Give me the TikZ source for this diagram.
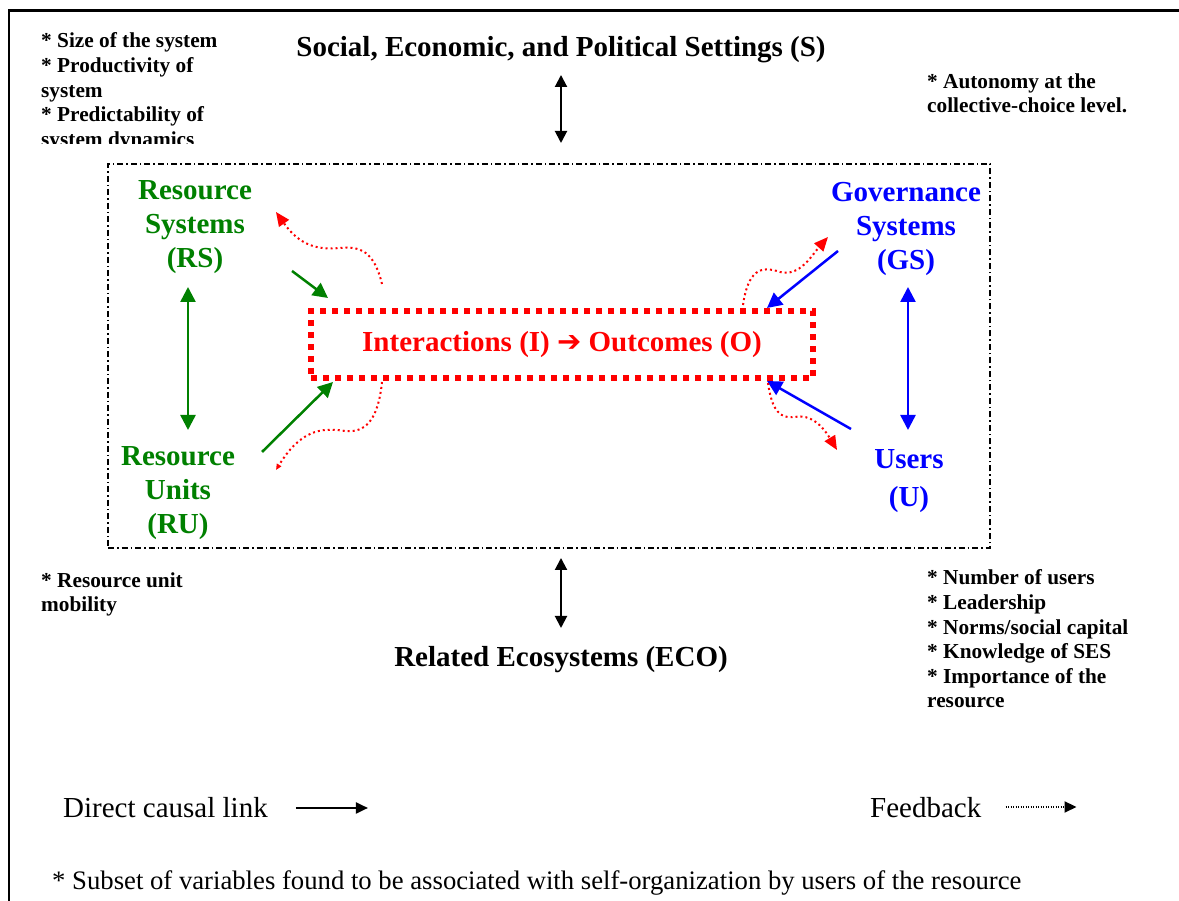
\documentclass[tikz,border=0pt]{standalone}
\usepackage{fontspec}
\setmainfont{Liberation Serif}
\newfontfamily\arrowfont{DejaVu Sans}
\usepackage{xcolor}
\usetikzlibrary{arrows.meta, calc}

\definecolor{rsgreen}{RGB}{0,128,0}
\definecolor{gsblue}{RGB}{0,0,255}
\definecolor{iored}{RGB}{255,0,0}

\begin{document}
\begin{tikzpicture}[
  x=1pt, y=1pt,
  sys/.style={align=center, inner sep=0pt, anchor=base, font=\fontsize{29}{34}\selectfont\bfseries},
  heading/.style={inner sep=0pt, anchor=base, font=\fontsize{29}{34}\selectfont\bfseries},
  note/.style={align=left, inner sep=0pt, anchor=base west, font=\fontsize{21.3}{24.6}\selectfont\bfseries},
  legendtext/.style={inner sep=0pt, anchor=base west, font=\fontsize{29}{34}\selectfont},
  iobox/.style={draw=iored, line width=6pt, dash pattern=on 6pt off 6pt, minimum width=502pt, minimum height=67pt, inner sep=0pt, outer sep=0pt, text=iored, font=\fontsize{29}{34}\selectfont\bfseries},
  sesbox/.style={draw, line width=1.5pt, dash pattern=on 6pt off 3pt on 1.5pt off 3pt, minimum width=882pt, minimum height=384pt, inner sep=0pt, outer sep=0pt},
  causal/.style={line width=2.5pt, -{Triangle[length=15pt,width=15pt]}},
  twoway/.style={line width=2.5pt, {Triangle[length=15pt,width=15pt]}-{Triangle[length=15pt,width=15pt]}},
  outer/.style={line width=2pt, {Triangle[length=12pt,width=12pt]}-{Triangle[length=12pt,width=12pt]}},
  feedback/.style={iored, line width=2pt, dash pattern=on 2pt off 3pt, -{Triangle[length=14pt,width=12pt]}}
]
\useasboundingbox (0,0) rectangle (1179,901);

% Frame
\draw[line width=2.5pt] (1179,890.5) -- (9,890.5) -- (9,0);

% Core system (base = last line)
\node (ses) [sesbox] at (549,545) {};
\node (io) [iobox] at (562,556.5) {Interactions (I) {\arrowfont\bfseries ➔} Outcomes (O)};

\node (rs) [sys, text=rsgreen] at (195,633) {Resource\\Systems\\(RS)};
\node (ru) [sys, text=rsgreen] at (178,367) {Resource\\Units\\(RU)};
\node (gs) [sys, text=gsblue] at (906,631) {Governance\\Systems\\(GS)};
\node (us) [sys, text=gsblue] at (909,394) {Users\\[4pt](U)};

% Outer settings
\node (title) [heading] at (561,844) {Social, Economic, and Political Settings (S)};
\node (eco) [heading] at (561,234) {Related Ecosystems (ECO)};

% Variable lists
\begin{scope}
  \clip (0,757) rectangle (400,901);
  \node (rsnote) [note] at (41,754.6) {* Size of the system\\* Productivity of\\system\\* Predictability of\\system dynamics};
\end{scope}
\node (gsnote) [note] at (927,788) {* Autonomy at the\\collective-choice level.};
\node (runote) [note] at (41,289) {* Resource unit\\mobility};
\node (usnote) [note] at (927,193) {* Number of users\\* Leadership\\* Norms/social capital\\* Knowledge of SES\\* Importance of the\\resource};

% Legend
\node (direct) [legendtext] at (63,83) {Direct causal link};
\node (fback) [legendtext] at (870,83) {Feedback};
\node (subset) [legendtext, font=\fontsize{26.7}{30}\selectfont] at (52,11) {* Subset of variables found to be associated with self-organization by users of the resource};

% Arrows
\draw[outer] ([yshift=-18pt]title.base) -- ($(ses.north -| title.base)+(0,21)$);
\draw[outer] ($(ses.south -| eco.base)+(0,-10)$) -- ([yshift=39pt]eco.base);

\draw[twoway, rsgreen] ([shift={(-7,-19)}]rs.base) -- ([shift={(10,104)}]ru.base);
\draw[twoway, gsblue] ([shift={(2,-17)}]gs.base) -- ([shift={(-1,77)}]us.base);

\draw[causal, rsgreen] ([shift={(97,-3)}]rs.base) -- ([shift={(17,13)}]io.north west);
\draw[causal, rsgreen] ([shift={(84,82)}]ru.base) -- ([shift={(22,-4)}]io.south west);
\draw[causal, gsblue] ([shift={(-68,19)}]gs.base) -- ([shift={(-46,3)}]io.north east);
\draw[causal, gsblue] ([shift={(-58,78)}]us.base) -- ([shift={(-46,-3)}]io.south east);

% Feedback loops
\draw[feedback] ([shift={(71,27)}]io.north west) .. controls +(-8,33) and (360,655) .. (340,653) .. controls (318,651) and (300,655) .. (276,689);
\draw[feedback] ([shift={(-70,6)}]io.north east) .. controls (748,630) and (760,636) .. (780,629) .. controls (800,624) and (812,646) .. (828,664);
\draw[feedback] ([shift={(-45,-5)}]io.south east) .. controls (772,490) and (780,482) .. (795,484) .. controls (810,487) and (822,476) .. (837,451);
\draw[feedback, -{Triangle[length=6pt,width=5pt]}] ([shift={(71,-4)}]io.south west) .. controls (378,480) and (365,468) .. (345,470) .. controls (320,474) and (300,470) .. (276,431);

% Legend arrows
\draw[line width=2pt, -{Triangle[length=12pt,width=11pt]}] ([shift={(28,10)}]direct.base east) -- ++(72,0);
\draw[line width=2pt, dash pattern=on 1pt off 1.5pt, -{Triangle[length=12pt,width=11pt]}] ([shift={(24,11)}]fback.base east) -- ++(71,0);
\end{tikzpicture}
\end{document}
